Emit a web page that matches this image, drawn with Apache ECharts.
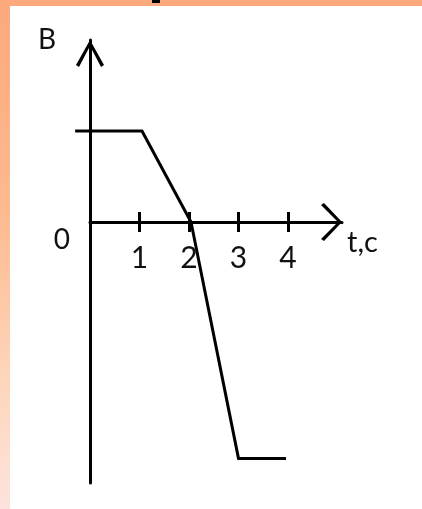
<!DOCTYPE html>
<html><head><meta charset="utf-8">
<script src="https://cdn.jsdelivr.net/npm/echarts@6/dist/echarts.min.js"></script>
<style>
html,body{margin:0;padding:0;width:422px;height:509px;overflow:hidden;background:linear-gradient(to bottom,#fca97c 0%,#fdb98e 40%,#fdd6bb 75%,#fde3dd 100%);}
#panel{position:absolute;left:10px;top:6px;width:412px;height:503px;background:#fff;}
#chart{position:absolute;left:0;top:0;width:422px;height:509px;}
</style></head><body><div id="panel"></div><div id="chart"></div>
<script>
// data
const tValues = [-0.3, 1.05, 2.04, 3.0, 3.96];
const bValues = [1.0, 1.0, 0.0, -2.6, -2.6];
const xTickValues = [1, 2, 3, 4];
const yTickValues = [0];
const xAxisName = 't,c';
const yAxisName = 'B';
const xRange = [0, 5.09];
const yRange = [-2.868, 2.0];

const points = tValues.map((t, i) => [t, bValues[i]]);
const FONT = 'Lato, "Liberation Sans", sans-serif';
const xArrow = 'path://M0,18 L19,0 L38,18 L36,21 L19,4 L2,21 Z';
const yArrow = 'path://M0,25 L14,0 L28,25 L25,27 L14,6 L3,27 Z';
const GRID_LEFT = 90, GRID_RIGHT = 80, GRID_BOTTOM = 26, GRID_TOP = 40, W = 422, H = 509;
// pixel distance from grid bottom to B = 0
const zeroOffset = -((H - GRID_TOP - GRID_BOTTOM) * (0 - yRange[0]) / (yRange[1] - yRange[0]));
// wider plotting grid (same scale) so the line can start left of the B axis
const pxPerT = (W - GRID_LEFT - GRID_RIGHT) / (xRange[1] - xRange[0]);
const EXTRA = 16;
const xRangeWide = [xRange[0] - EXTRA / pxPerT, xRange[1]];

const chart = echarts.init(document.getElementById('chart'), null, {renderer: 'canvas'});
chart.setOption({
  backgroundColor: 'transparent',
  animation: false,
  grid: [
    {left: GRID_LEFT, right: GRID_RIGHT, top: GRID_TOP, bottom: GRID_BOTTOM, outerBoundsMode: 'none', containLabel: false},
    {left: GRID_LEFT - EXTRA, right: GRID_RIGHT, top: GRID_TOP, bottom: GRID_BOTTOM, outerBoundsMode: 'none', containLabel: false}
  ],
  graphic: [{type: 'rect', shape: {x: 152, y: 0, width: 8, height: 3}, style: {fill: '#000'}}],
  xAxis: [{
    gridIndex: 0, type: 'value', min: xRange[0], max: xRange[1], position: 'bottom', offset: zeroOffset,
    axisLine: {onZero: false, symbol: ['none', xArrow], symbolSize: [38, 21], symbolOffset: [0, -10.5],
      lineStyle: {color: '#000', width: 3}},
    axisTick: {show: true, customValues: xTickValues, length: 10, inside: false, lineStyle: {color: '#000', width: 3}},
    axisLabel: {show: true, customValues: xTickValues, margin: 21, color: '#111', fontSize: 30, fontFamily: FONT},
    splitLine: {show: false},
    name: xAxisName, nameLocation: 'end', nameGap: 5,
    nameTextStyle: {align: 'left', verticalAlign: 'top', padding: [6, 0, 0, 0], color: '#111', fontSize: 29, fontFamily: FONT}
  }, {
    gridIndex: 0, type: 'value', min: xRange[0], max: xRange[1], position: 'bottom', offset: zeroOffset,
    axisLine: {show: false, onZero: false},
    axisTick: {show: true, customValues: xTickValues, length: 10, inside: true, lineStyle: {color: '#000', width: 3}},
    axisLabel: {show: false},
    splitLine: {show: false}
  }, {
    gridIndex: 1, type: 'value', min: xRangeWide[0], max: xRangeWide[1], show: false
  }],
  yAxis: [{
    gridIndex: 0, type: 'value', min: yRange[0], max: yRange[1],
    axisLine: {onZero: false, symbol: ['none', yArrow], symbolSize: [28, 27], symbolOffset: [0, -13.5],
      lineStyle: {color: '#000', width: 3}},
    axisTick: {show: false},
    axisLabel: {show: true, customValues: yTickValues, margin: 20, verticalAlign: 'top', lineHeight: 36, color: '#111', fontSize: 28, fontFamily: FONT},
    splitLine: {show: false},
    name: yAxisName, nameLocation: 'end', nameGap: 14,
    nameTextStyle: {align: 'right', verticalAlign: 'top', padding: [0, 34, 0, 0], color: '#111', fontSize: 28, fontFamily: FONT}
  }, {
    gridIndex: 1, type: 'value', min: yRange[0], max: yRange[1], show: false
  }],
  series: [{
    type: 'line', xAxisIndex: 2, yAxisIndex: 1, data: points, symbol: 'none', clip: false,
    lineStyle: {color: '#000', width: 3, join: 'round'}
  }]
});
</script></body></html>
